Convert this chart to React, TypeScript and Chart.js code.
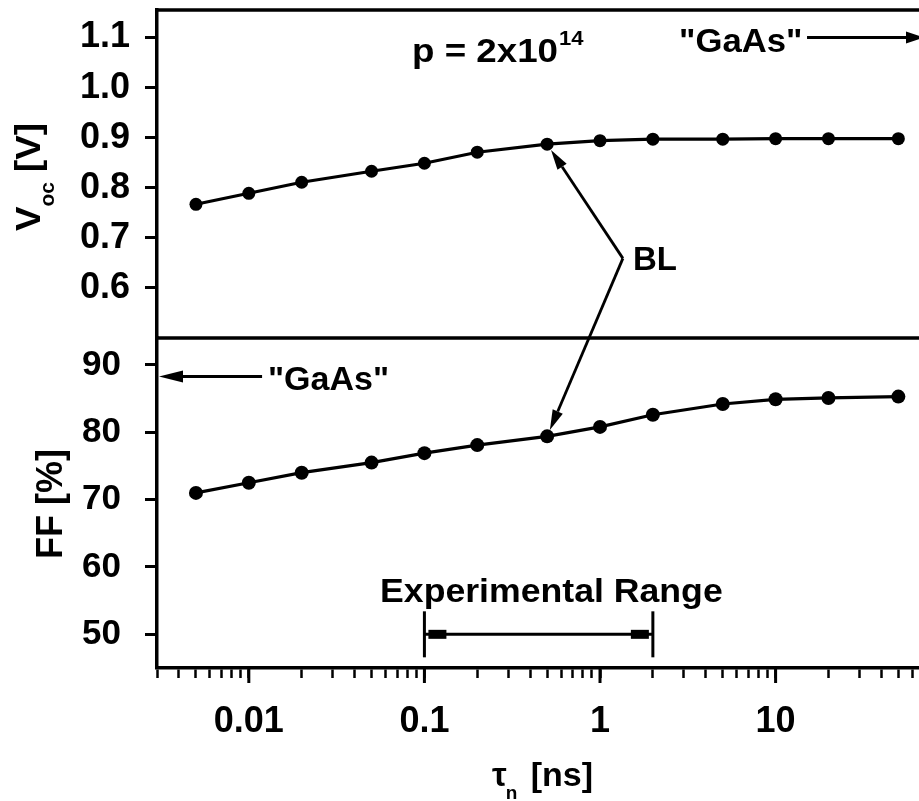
import React, { useEffect, useRef } from "react";
import { Chart, registerables } from "chart.js";

Chart.register(...registerables);

// Electron lifetime τn [ns] of each simulated cell
const tauNs = [0.005, 0.01, 0.02, 0.05, 0.1, 0.2, 0.5, 1, 2, 5, 10, 20, 50];
// Open-circuit voltage [V]
const vocV = [0.767, 0.789, 0.811, 0.833, 0.849, 0.871, 0.887, 0.894, 0.897, 0.897, 0.898, 0.898, 0.898];
// Fill factor [%]
const ffPct = [71.0, 72.5, 74.0, 75.5, 76.9, 78.1, 79.4, 80.8, 82.6, 84.2, 84.9, 85.1, 85.3];

const vocTickValues = [0.6, 0.7, 0.8, 0.9, 1.0, 1.1];
const ffTickValues = [50, 60, 70, 80, 90];
const tauLabelValues = [0.01, 0.1, 1, 10];

// Reference values marked on the panels
const gaasVoc = 1.1;
const gaasFF = 88.3;
const expRangeTau = [0.1, 2];
const expRangeFF = 50;
const blTau = 0.5;

const FONT = "'Liberation Sans', Arial, Helvetica, sans-serif";
const INK = "#000";

function minorLogTicks(min: number, max: number) {
  const out: number[] = [];
  for (let k = -4; k <= 3; k++) {
    for (let m = 1; m <= 9; m++) {
      const v = parseFloat((m * Math.pow(10, k)).toPrecision(3));
      if (v >= min - 1e-12 && v <= max + 1e-12) out.push(v);
    }
  }
  return out;
}

function isLabelled(v: number) {
  return tauLabelValues.some((t) => Math.abs(t - v) / t < 1e-6);
}

function stretchedText(ctx: CanvasRenderingContext2D, text: string, x: number, y: number, size: number, sx = 1.0) {
  ctx.save();
  ctx.translate(x, y);
  ctx.scale(sx, 1);
  ctx.font = `bold ${size}px ${FONT}`;
  ctx.textAlign = "left";
  ctx.textBaseline = "alphabetic";
  ctx.fillText(text, 0, 0);
  const w = ctx.measureText(text).width * sx;
  ctx.restore();
  return w;
}

type Part = { text: string; size: number; dy: number };

function rotatedTitle(ctx: CanvasRenderingContext2D, parts: Part[], baseX: number, centerY: number, sx: number) {
  ctx.save();
  ctx.translate(baseX, centerY);
  ctx.rotate(-Math.PI / 2);
  let total = 0;
  for (const p of parts) {
    ctx.font = `bold ${p.size}px ${FONT}`;
    total += ctx.measureText(p.text).width * sx;
  }
  let cx = -total / 2;
  for (const p of parts) {
    cx += stretchedText(ctx, p.text, cx, p.dy, p.size, sx);
  }
  ctx.restore();
}

function line(ctx: CanvasRenderingContext2D, x1: number, y1: number, x2: number, y2: number) {
  ctx.beginPath();
  ctx.moveTo(x1, y1);
  ctx.lineTo(x2, y2);
  ctx.stroke();
}

function arrow(ctx: CanvasRenderingContext2D, x1: number, y1: number, x2: number, y2: number, len = 20, half = 6) {
  const a = Math.atan2(y2 - y1, x2 - x1);
  const bx = x2 - Math.cos(a) * len;
  const by = y2 - Math.sin(a) * len;
  line(ctx, x1, y1, bx, by);
  ctx.beginPath();
  ctx.moveTo(x2, y2);
  ctx.lineTo(bx + Math.sin(a) * half, by - Math.cos(a) * half);
  ctx.lineTo(bx - Math.sin(a) * half, by + Math.cos(a) * half);
  ctx.closePath();
  ctx.fill();
}

const panelDecor = {
  id: "panelDecor",
  afterDraw(chart: any) {
    const { ctx, chartArea: ca, scales } = chart;
    const x = scales.x;
    const yV = scales.yV;
    const yF = scales.yFF;
    const px = (t: number) => x.getPixelForValue(t);

    ctx.save();
    ctx.strokeStyle = INK;
    ctx.fillStyle = INK;
    ctx.lineWidth = 3.5;
    ctx.lineCap = "butt";

    // frame: top, right and the panel divider
    line(ctx, ca.left - 1.5, ca.top, ca.right + 1.5, ca.top);
    line(ctx, ca.right, ca.top, ca.right, ca.bottom);
    line(ctx, ca.left, yV.bottom, ca.right, yV.bottom);

    // longer ticks at the labelled decades
    ctx.lineWidth = 3;
    for (const v of tauLabelValues) {
      const xx = px(v);
      line(ctx, xx, ca.bottom, xx, ca.bottom + 15);
    }

    // p label with superscript exponent
    const pX = px(0.085);
    const pY = yV.getPixelForValue(1.052);
    const w = stretchedText(ctx, "p = 2x10", pX, pY, 34, 1.08);
    stretchedText(ctx, "14", pX + w + 1, pY - 17, 21, 1.05);

    // "GaAs" reference voltage arrow (top panel)
    const gY = yV.getPixelForValue(gaasVoc);
    stretchedText(ctx, "\"GaAs\"", px(2.82), yV.getPixelForValue(1.072), 34, 1.02);
    ctx.lineWidth = 3;
    arrow(ctx, px(15.1), gY, ca.right, gY, 18, 6);

    // BL pointers to the 0.5 ns points of both panels
    const idx = tauNs.indexOf(blTau);
    const pv = chart.getDatasetMeta(0).data[idx];
    const pf = chart.getDatasetMeta(1).data[idx];
    const vx = px(1.35);
    const vy = yV.getPixelForValue(0.659);
    const tip = (p: any) => {
      const dx = vx - p.x;
      const dy = vy - p.y;
      const d = Math.hypot(dx, dy);
      return [p.x + (dx / d) * 7, p.y + (dy / d) * 7];
    };
    const [t1x, t1y] = tip(pv);
    const [t2x, t2y] = tip(pf);
    ctx.lineWidth = 2.8;
    arrow(ctx, vx, vy, t1x, t1y, 20, 5.5);
    arrow(ctx, vx, vy, t2x, t2y, 20, 5.5);
    stretchedText(ctx, "BL", px(1.54), yV.getPixelForValue(0.635), 33, 1.0);

    // "GaAs" reference fill factor arrow (bottom panel)
    const fY = yF.getPixelForValue(gaasFF);
    ctx.lineWidth = 3;
    arrow(ctx, px(0.0119), fY, ca.left + 2, fY, 24, 6);
    stretchedText(ctx, "\"GaAs\"", px(0.01286), yF.getPixelForValue(86.3), 34, 1.0);

    // experimental lifetime range
    const eY = yF.getPixelForValue(expRangeFF);
    const eL = px(expRangeTau[0]);
    const eR = px(expRangeTau[1]);
    ctx.lineWidth = 3;
    line(ctx, eL, eY, eR, eY);
    line(ctx, eL, eY - 23, eL, eY + 23);
    line(ctx, eR, eY - 23, eR, eY + 23);
    ctx.fillRect(eL + 4, eY - 4.5, 18, 9);
    ctx.fillRect(eR - 22, eY - 4.5, 18, 9);
    stretchedText(ctx, "Experimental Range", px(0.0559), yF.getPixelForValue(54.8), 33, 1.08);

    // axis titles
    rotatedTitle(
      ctx,
      [
        { text: "V", size: 35, dy: 0 },
        { text: "oc", size: 20, dy: 14 },
        { text: " [V]", size: 35, dy: 0 },
      ],
      40,
      177,
      1.05
    );
    rotatedTitle(ctx, [{ text: "FF [%]", size: 36, dy: 0 }], 62, 504, 1.0);

    const tx = 492;
    const tBase = 786;
    let cx = tx;
    cx += stretchedText(ctx, "τ", cx, tBase, 33, 1.0);
    stretchedText(ctx, "n", cx - 1, tBase + 13, 19, 1.0);
    stretchedText(ctx, "[ns]", cx + 24, tBase, 34, 1.0);

    ctx.restore();
  },
};

export default function App() {
  const ref = useRef<HTMLCanvasElement | null>(null);

  useEffect(() => {
    if (!ref.current) return;
    const tauMin = 0.003;
    const tauMax = 70;
    const tickVals = minorLogTicks(tauMin, tauMax);

    const yGrid = {
      display: true,
      drawOnChartArea: false,
      drawTicks: true,
      tickLength: 12,
      tickWidth: 3,
      tickColor: INK,
      color: INK,
    };

    const chart = new Chart(ref.current, {
      type: "line",
      data: {
        datasets: [
          {
            label: "Voc",
            data: tauNs.map((t, i) => ({ x: t, y: vocV[i] })),
            yAxisID: "yV",
            borderColor: INK,
            backgroundColor: INK,
            borderWidth: 3.2,
            pointRadius: 6.5,
            pointBorderWidth: 0,
            pointBackgroundColor: INK,
            tension: 0,
          },
          {
            label: "FF",
            data: tauNs.map((t, i) => ({ x: t, y: ffPct[i] })),
            yAxisID: "yFF",
            borderColor: INK,
            backgroundColor: INK,
            borderWidth: 3.2,
            pointRadius: 7,
            pointBorderWidth: 0,
            pointBackgroundColor: INK,
            tension: 0,
          },
        ],
      },
      options: {
        responsive: false,
        maintainAspectRatio: false,
        animation: false,
        events: [],
        layout: { padding: { left: 0, top: 10, right: 16, bottom: 0 } },
        plugins: { legend: { display: false }, tooltip: { enabled: false } },
        scales: {
          x: {
            type: "logarithmic",
            position: "bottom",
            min: tauMin,
            max: tauMax,
            afterBuildTicks: (s: any) => {
              s.ticks = tickVals.map((v) => ({ value: v, major: isLabelled(v) }));
            },
            afterFit: (s: any) => {
              s.height = 133;
              s.paddingLeft = 0;
              s.paddingRight = 0;
            },
            ticks: {
              autoSkip: false,
              maxRotation: 0,
              minRotation: 0,
              padding: 22,
              color: INK,
              font: { family: FONT, size: 36, weight: "bold" },
              callback: (v: any) => (isLabelled(Number(v)) ? String(Number(v)) : ""),
            },
            grid: {
              display: true,
              drawOnChartArea: false,
              drawTicks: true,
              tickLength: 10,
              tickWidth: 2.5,
              tickColor: INK,
              color: INK,
            },
            border: { display: true, color: INK, width: 3.5 },
          },
          yFF: {
            type: "linear",
            position: "left",
            stack: "panels",
            stackWeight: 330,
            weight: 0,
            min: 45,
            max: 94,
            afterBuildTicks: (s: any) => {
              s.ticks = ffTickValues.map((v) => ({ value: v }));
            },
            afterFit: (s: any) => {
              s.width = 157;
              s.paddingTop = 0;
              s.paddingBottom = 0;
            },
            ticks: {
              autoSkip: false,
              padding: 24,
              color: INK,
              font: { family: FONT, size: 35, weight: "bold" },
              callback: (v: any) => String(Math.round(Number(v))),
            },
            grid: yGrid,
            border: { display: true, color: INK, width: 3.5 },
          },
          yV: {
            type: "linear",
            position: "left",
            stack: "panels",
            stackWeight: 328,
            weight: 1,
            min: 0.5,
            max: 1.155,
            afterBuildTicks: (s: any) => {
              s.ticks = vocTickValues.map((v) => ({ value: v }));
            },
            afterFit: (s: any) => {
              s.width = 157;
              s.paddingTop = 0;
              s.paddingBottom = 0;
            },
            ticks: {
              autoSkip: false,
              padding: 15,
              color: INK,
              font: { family: FONT, size: 36, weight: "bold" },
              callback: (v: any) => Number(v).toFixed(1),
            },
            grid: yGrid,
            border: { display: true, color: INK, width: 3.5 },
          },
        },
      },
      plugins: [panelDecor],
    } as any);

    return () => chart.destroy();
  }, []);

  return (
    <div
      style={{
        position: "fixed",
        left: 0,
        top: 0,
        width: 919,
        height: 801,
        overflow: "hidden",
        background: "#fff",
      }}
    >
      <canvas ref={ref} width={940} height={801} style={{ display: "block" }} />
    </div>
  );
}
